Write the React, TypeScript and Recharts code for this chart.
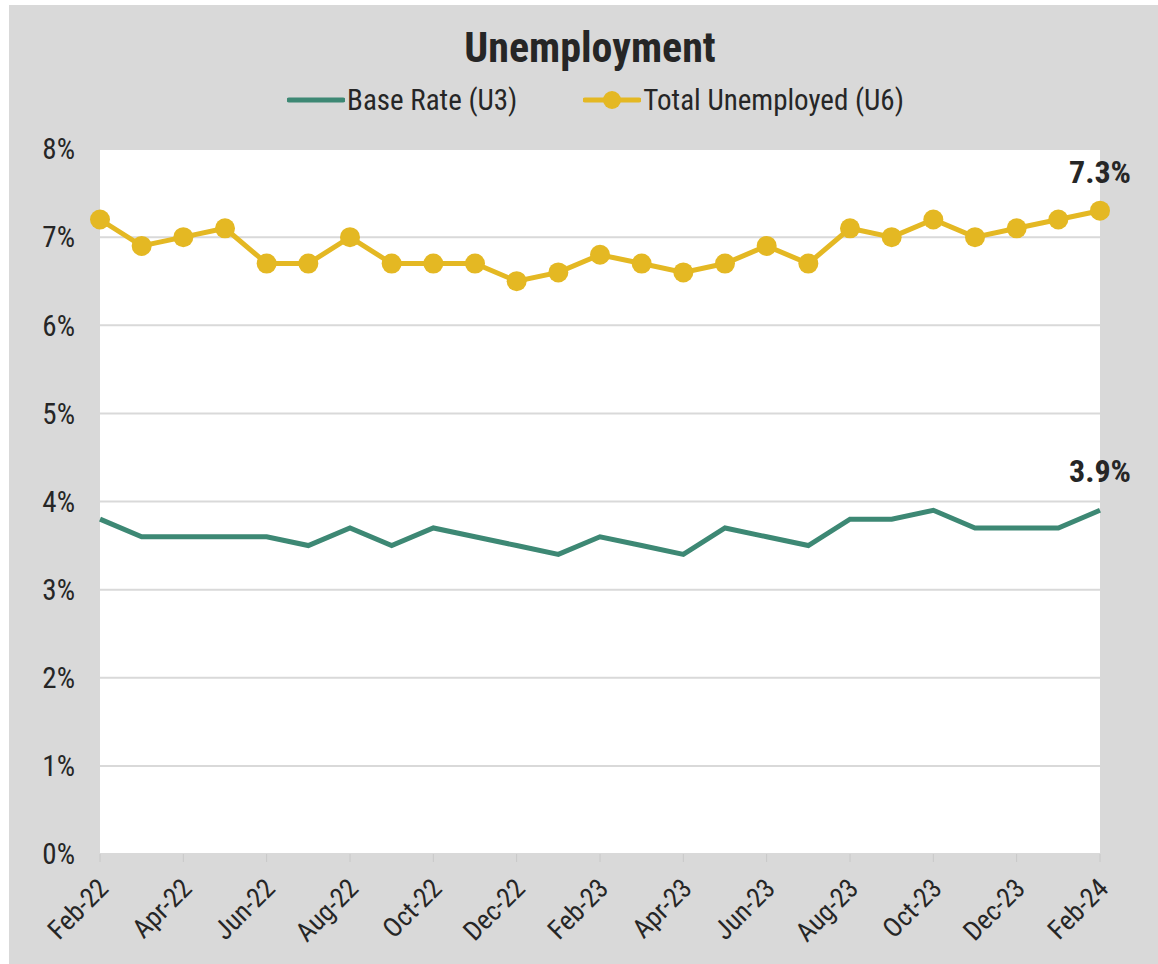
import React from "react";
import { LineChart, Line, XAxis, YAxis, CartesianGrid, LabelList } from "recharts";

const months = [
  "Feb-22", "Mar-22", "Apr-22", "May-22", "Jun-22", "Jul-22", "Aug-22", "Sep-22", "Oct-22", "Nov-22",
  "Dec-22", "Jan-23", "Feb-23", "Mar-23", "Apr-23", "May-23", "Jun-23", "Jul-23", "Aug-23", "Sep-23",
  "Oct-23", "Nov-23", "Dec-23", "Jan-24", "Feb-24",
];
const u3 = [3.8, 3.6, 3.6, 3.6, 3.6, 3.5, 3.7, 3.5, 3.7, 3.6, 3.5, 3.4, 3.6, 3.5, 3.4, 3.7, 3.6, 3.5, 3.8, 3.8, 3.9, 3.7, 3.7, 3.7, 3.9];
const u6 = [7.2, 6.9, 7.0, 7.1, 6.7, 6.7, 7.0, 6.7, 6.7, 6.7, 6.5, 6.6, 6.8, 6.7, 6.6, 6.7, 6.9, 6.7, 7.1, 7.0, 7.2, 7.0, 7.1, 7.2, 7.3];
const yTicks = [0, 1, 2, 3, 4, 5, 6, 7, 8];

const data = months.map((m, i) => ({ month: m, u3: u3[i], u6: u6[i] }));

const FONT = "'Roboto Condensed', 'Liberation Sans Narrow', 'DejaVu Sans Condensed', Roboto, sans-serif";
const C_U3 = "#3d8874";
const C_U6 = "#e4b823";
const LAST = months.length - 1;

const XTick = (props: any) => {
  const { x, y, payload } = props;
  return (
    <g transform={`translate(${x + 10},${y + 26})`}>
      <text textAnchor="end" transform="rotate(-45)" fontSize={27} fill="#262626" fontFamily={FONT}>
        {payload.value}
      </text>
    </g>
  );
};

const EndLabel = (props: any) => {
  const { x, y, index, value } = props;
  if (index !== LAST) return null;
  return (
    <text x={x} y={y - 28} textAnchor="middle" fontSize={32} fontWeight="bold" fill="#262626" fontFamily={FONT}>
      {value.toFixed(1)}%
    </text>
  );
};

const LegendBlock = () => (
  <div
    style={{
      position: "absolute",
      top: 78,
      left: 0,
      width: 1173,
      display: "flex",
      justifyContent: "center",
      alignItems: "center",
      fontFamily: FONT,
      fontSize: 29,
      color: "#262626",
    }}
  >
    <svg width={58} height={24} style={{ marginRight: 2 }}>
      <line x1={2} y1={12} x2={56} y2={12} stroke={C_U3} strokeWidth={5} strokeLinecap="round" />
    </svg>
    <span style={{ marginRight: 66 }}>Base Rate (U3)</span>
    <svg width={58} height={24} style={{ marginRight: 2 }}>
      <line x1={2} y1={12} x2={56} y2={12} stroke={C_U6} strokeWidth={5} strokeLinecap="round" />
      <circle cx={29} cy={12} r={9} fill={C_U6} />
    </svg>
    <span>Total Unemployed (U6)</span>
  </div>
);

export default function App() {
  return (
    <div style={{ position: "absolute", left: 9, top: 5, width: 1149, height: 959, background: "#d9d9d9" }}>
      <div
        style={{
          position: "absolute",
          top: 18,
          left: 0,
          width: 1162,
          textAlign: "center",
          fontFamily: FONT,
          fontWeight: "bold",
          fontSize: 42,
          color: "#262626",
        }}
      >
        Unemployment
      </div>
      <LegendBlock />
      <LineChart width={1149} height={959} data={data} margin={{ top: 144, right: 58, bottom: 10, left: 31 }}>
        <CartesianGrid vertical={false} stroke="#d9d9d9" strokeWidth={2} fill="#ffffff" />
        <XAxis
          dataKey="month"
          interval={1}
          height={100}
          axisLine={false}
          tickLine={{ stroke: "#c8c8c8", strokeWidth: 1 }}
          tickSize={8}
          tick={<XTick />}
        />
        <YAxis
          domain={[0, 8]}
          ticks={yTicks}
          width={60}
          axisLine={false}
          tickLine={false}
          tickSize={0}
          tickMargin={25}
          tickFormatter={(v: number) => `${v}%`}
          tick={{ fontSize: 29, fill: "#262626", fontFamily: FONT }}
        />
        <Line dataKey="u3" name="Base Rate (U3)" stroke={C_U3} strokeWidth={5} dot={false} isAnimationActive={false}>
          <LabelList dataKey="u3" content={<EndLabel />} />
        </Line>
        <Line
          dataKey="u6"
          name="Total Unemployed (U6)"
          stroke={C_U6}
          strokeWidth={5}
          dot={{ r: 10, fill: C_U6, stroke: "none" }}
          isAnimationActive={false}
        >
          <LabelList dataKey="u6" content={<EndLabel />} />
        </Line>
      </LineChart>
    </div>
  );
}
